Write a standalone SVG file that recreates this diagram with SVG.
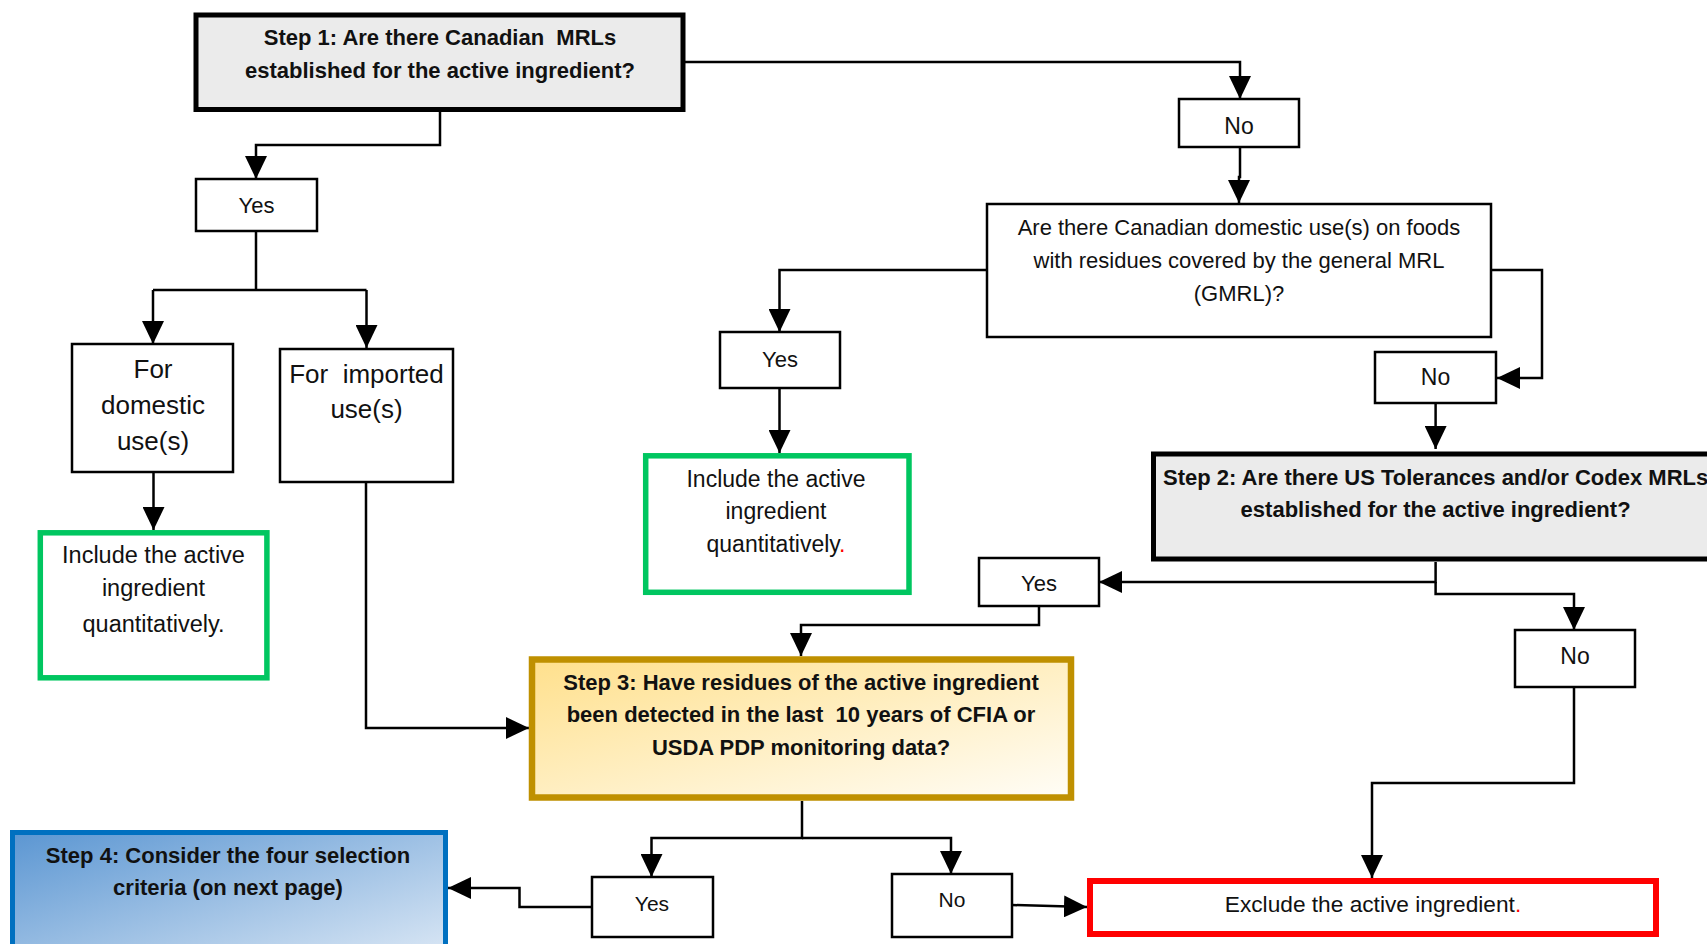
<svg xmlns="http://www.w3.org/2000/svg" width="1707" height="944" viewBox="0 0 1707 944">
<defs>
<style>
.box{fill:#fff;stroke:#000;stroke-width:2.5}
.step{fill:#ebebeb;stroke:#000;stroke-width:5}
.green{fill:#fff;stroke:#00c660;stroke-width:5.5}
.t{font-family:"Liberation Sans",Arial,sans-serif;font-size:22px;fill:#111;text-anchor:middle}
.b{font-family:"Liberation Sans",Arial,sans-serif;font-size:22px;font-weight:bold;fill:#111;text-anchor:middle}
.c{fill:none;stroke:#000;stroke-width:2.5}
.red{fill:#ff0000}
</style>
<marker id="ah" markerUnits="userSpaceOnUse" markerWidth="24" markerHeight="22" refX="23" refY="11" orient="auto">
<path d="M0,0 L23,11 L0,22 z" fill="#000"/>
</marker>
<linearGradient id="gold" x1="0" y1="0" x2="1" y2="1">
<stop offset="0" stop-color="#ffe08c"/>
<stop offset="1" stop-color="#fffdf7"/>
</linearGradient>
<linearGradient id="blue" x1="0" y1="0" x2="1" y2="1">
<stop offset="0" stop-color="#5b96d2"/>
<stop offset="1" stop-color="#e2ecf7"/>
</linearGradient>
</defs>
<rect width="1707" height="944" fill="#fff"/>

<g id="connectors">
<polyline class="c" points="440,111 440,145 256,145 256,179" marker-end="url(#ah)"/>
<polyline class="c" points="685,62 1240,62 1240,99" marker-end="url(#ah)"/>
<polyline class="c" points="256,231 256,290"/>
<polyline class="c" points="153,290 366.5,290"/>
<polyline class="c" points="153,290 153,344" marker-end="url(#ah)"/>
<polyline class="c" points="366.5,290 366.5,348" marker-end="url(#ah)"/>
<polyline class="c" points="153.5,472 153.5,530" marker-end="url(#ah)"/>
<polyline class="c" points="366,482 366,728 529,728" marker-end="url(#ah)"/>
<polyline class="c" points="1240,147 1240,177 1239,177 1239,203" marker-end="url(#ah)"/>
<polyline class="c" points="987,270 779.5,270 779.5,332" marker-end="url(#ah)"/>
<polyline class="c" points="1491,270 1542,270 1542,378 1497,378" marker-end="url(#ah)"/>
<polyline class="c" points="779.5,388 779.5,453" marker-end="url(#ah)"/>
<polyline class="c" points="1435.6,403 1435.6,449" marker-end="url(#ah)"/>
<polyline class="c" points="1435.6,562 1435.6,582 1099,582" marker-end="url(#ah)"/>
<polyline class="c" points="1435.6,582 1435.6,594 1574,594 1574,630" marker-end="url(#ah)"/>
<polyline class="c" points="1039,606 1039,625 801,625 801,656" marker-end="url(#ah)"/>
<polyline class="c" points="1574,687 1574,783 1372,783 1372,878" marker-end="url(#ah)"/>
<polyline class="c" points="802,801 802,838 651.5,838 651.5,877" marker-end="url(#ah)"/>
<polyline class="c" points="802,838 951,838 951,874" marker-end="url(#ah)"/>
<polyline class="c" points="592,907 519.5,907 519.5,888 448,888" marker-end="url(#ah)"/>
<polyline class="c" points="1012,905 1087,907" marker-end="url(#ah)"/>
</g>

<g id="step1">
<rect class="step" x="196" y="15" width="487" height="94.5" stroke-width="4.5"/>
<text class="b" x="440" y="45" xml:space="preserve">Step 1: Are there Canadian  MRLs</text>
<text class="b" x="440" y="78">established for the active ingredient?</text>
</g>

<g id="yes1">
<rect class="box" x="196" y="179" width="121" height="52"/>
<text class="t" x="256.5" y="213">Yes</text>
</g>

<g id="domestic">
<rect class="box" x="72" y="344" width="161" height="128"/>
<text class="t" x="153" y="378" style="font-size:26px">For</text>
<text class="t" x="153" y="414" style="font-size:26px">domestic</text>
<text class="t" x="153" y="450" style="font-size:26px">use(s)</text>
</g>

<g id="imported">
<rect class="box" x="280" y="349" width="173" height="133"/>
<text class="t" x="366.5" y="383" style="font-size:26px" xml:space="preserve">For  imported</text>
<text class="t" x="366.5" y="418" style="font-size:26px">use(s)</text>
</g>

<g id="include1">
<rect class="green" x="40.3" y="532.8" width="226.6" height="145"/>
<text class="t" x="153.5" y="563" style="font-size:23.5px">Include the active</text>
<text class="t" x="153.5" y="596" style="font-size:23.5px">ingredient</text>
<text class="t" x="153.5" y="632" style="font-size:23.5px">quantitatively.</text>
</g>

<g id="no1">
<rect class="box" x="1179" y="99" width="120" height="48"/>
<text class="t" x="1239" y="134" style="font-size:23px">No</text>
</g>

<g id="question">
<rect class="box" x="987" y="204" width="504" height="133"/>
<text class="t" x="1239" y="235">Are there Canadian domestic use(s) on foods</text>
<text class="t" x="1239" y="268">with residues covered by the general MRL</text>
<text class="t" x="1239" y="301">(GMRL)?</text>
</g>

<g id="yes2">
<rect class="box" x="720" y="332" width="120" height="56"/>
<text class="t" x="780" y="367">Yes</text>
</g>

<g id="include2">
<rect class="green" x="645.7" y="455.8" width="263.3" height="136.5"/>
<text class="t" x="776" y="487" style="font-size:23px">Include the active</text>
<text class="t" x="776" y="519" style="font-size:23px">ingredient</text>
<text class="t" x="776" y="552" style="font-size:23px">quantitatively<tspan class="red">.</tspan></text>
</g>

<g id="no2">
<rect class="box" x="1375" y="352" width="121" height="51"/>
<text class="t" x="1435.5" y="385" style="font-size:23px">No</text>
</g>

<g id="step2">
<rect class="step" x="1153.5" y="454" width="570" height="105"/>
<text class="b" x="1435.6" y="485">Step 2: Are there US Tolerances and/or Codex MRLs</text>
<text class="b" x="1435.6" y="517">established for the active ingredient?</text>
</g>

<g id="yes3">
<rect class="box" x="979" y="558" width="120" height="48"/>
<text class="t" x="1039" y="591">Yes</text>
</g>

<g id="no3">
<rect class="box" x="1515" y="630" width="120" height="57"/>
<text class="t" x="1575" y="664" style="font-size:23px">No</text>
</g>

<g id="step3">
<rect x="532" y="659.5" width="539" height="138" fill="url(#gold)" stroke="#bf9000" stroke-width="6.5"/>
<text class="b" x="801" y="690">Step 3: Have residues of the active ingredient</text>
<text class="b" x="801" y="722" xml:space="preserve">been detected in the last  10 years of CFIA or</text>
<text class="b" x="801" y="755">USDA PDP monitoring data?</text>
</g>

<g id="step4">
<rect x="12.5" y="832.5" width="433" height="140" fill="url(#blue)" stroke="#0070c0" stroke-width="5"/>
<text class="b" x="228" y="863">Step 4: Consider the four selection</text>
<text class="b" x="228" y="895">criteria (on next page)</text>
</g>

<g id="yes4">
<rect class="box" x="592" y="877" width="121" height="60"/>
<text class="t" x="652" y="911" style="font-size:21px">Yes</text>
</g>

<g id="no4">
<rect class="box" x="892" y="874" width="120" height="63"/>
<text class="t" x="952" y="907" style="font-size:21px">No</text>
</g>

<g id="exclude">
<rect x="1090" y="881" width="566" height="53" fill="#fff" stroke="#ff0000" stroke-width="6"/>
<text class="t" x="1373" y="912" style="font-size:22.7px">Exclude the active ingredient<tspan class="red">.</tspan></text>
</g>
</svg>
